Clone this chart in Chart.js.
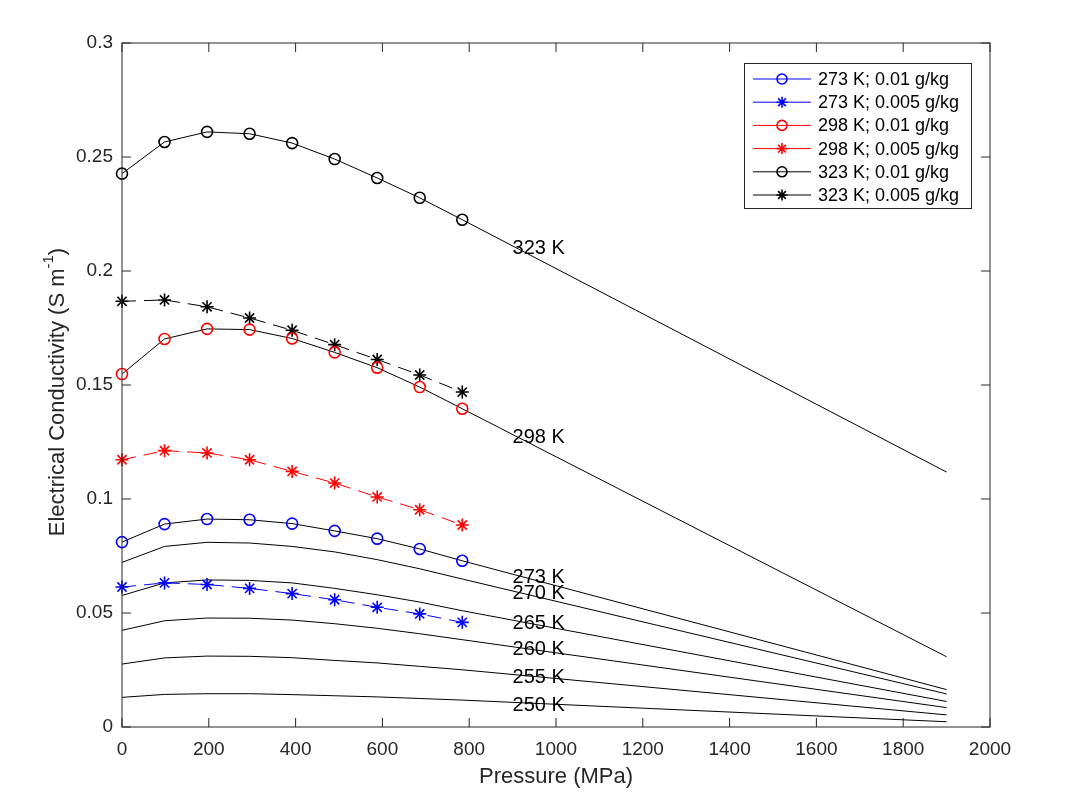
<!DOCTYPE html>
<html>
<head>
<meta charset="utf-8">
<title>Electrical conductivity vs pressure</title>
<script src="https://cdn.jsdelivr.net/npm/chart.js@4.4.1/dist/chart.umd.min.js"></script>
<style>
    html, body { margin: 0; padding: 0; background: #fff; }
</style>
</head>
<body>
<canvas id="chart" width="1074" height="810"></canvas>
<script>
// Measured pressures (MPa) and the pressures the model curves are drawn at
const pressure = [0, 98, 196, 294, 392, 490, 588, 686, 784];
const modelPressure = [0, 98, 196, 294, 392, 490, 588, 686, 784, 1900];

// Measured conductivity (S/m)
const sigma273_01 = [0.0811, 0.0890, 0.0912, 0.0909, 0.0892, 0.0860, 0.0826, 0.0781, 0.0729];
const sigma273_005 = [0.0614, 0.0632, 0.0625, 0.0608, 0.0585, 0.0558, 0.0525, 0.0496, 0.0459];
const sigma298_01 = [0.1548, 0.1702, 0.1746, 0.1743, 0.1704, 0.1643, 0.1576, 0.1491, 0.1396];
const sigma298_005 = [0.1172, 0.1212, 0.1202, 0.1172, 0.1121, 0.1070, 0.1009, 0.0953, 0.0886];
const sigma323_01 = [0.2427, 0.2566, 0.2610, 0.2602, 0.2561, 0.2491, 0.2408, 0.2321, 0.2225];
const sigma323_005 = [0.1867, 0.1873, 0.1843, 0.1794, 0.1740, 0.1677, 0.1612, 0.1544, 0.1469];

// Model curves (S/m)
const model323 = [0.2427, 0.2566, 0.2610, 0.2602, 0.2561, 0.2491, 0.2408, 0.2321, 0.2225, 0.1118];
const model298 = [0.1548, 0.1702, 0.1746, 0.1743, 0.1704, 0.1643, 0.1576, 0.1491, 0.1396, 0.0308];
const model273 = [0.0811, 0.0890, 0.0912, 0.0909, 0.0892, 0.0860, 0.0826, 0.0781, 0.0729, 0.0164];
const model270 = [0.0722, 0.0792, 0.0810, 0.0807, 0.0792, 0.0768, 0.0734, 0.0694, 0.0649, 0.0145];
const model265 = [0.0577, 0.0632, 0.0645, 0.0643, 0.0632, 0.0608, 0.0580, 0.0548, 0.0510, 0.0112];
const model260 = [0.0424, 0.0466, 0.0478, 0.0477, 0.0469, 0.0453, 0.0433, 0.0409, 0.0383, 0.0085];
const model255 = [0.0276, 0.0303, 0.0311, 0.0310, 0.0304, 0.0292, 0.0281, 0.0266, 0.0251, 0.0053];
const model250 = [0.0130, 0.0143, 0.0146, 0.0146, 0.0142, 0.0137, 0.0132, 0.0125, 0.0118, 0.0023];

const modelCurves = [model323, model298, model273, model270, model265, model260, model255, model250];
const modelLabels = ['323 K', '298 K', '273 K', '270 K', '265 K', '260 K', '255 K', '250 K'];
const labelPressure = 900;

const xTicks = [0, 200, 400, 600, 800, 1000, 1200, 1400, 1600, 1800, 2000];
const yTicks = [0, 0.05, 0.1, 0.15, 0.2, 0.25, 0.3];

const FONT = '"Liberation Sans", Helvetica, Arial, sans-serif';
const AXIS = '#262626';

// experiment series, same order as the legend
const series = [
    { label: '273 K; 0.01 g/kg', data: sigma273_01, color: '#0000ff', marker: 'circle' },
    { label: '273 K; 0.005 g/kg', data: sigma273_005, color: '#0000ff', marker: 'star' },
    { label: '298 K; 0.01 g/kg', data: sigma298_01, color: '#ff0000', marker: 'circle' },
    { label: '298 K; 0.005 g/kg', data: sigma298_005, color: '#ff0000', marker: 'star' },
    { label: '323 K; 0.01 g/kg', data: sigma323_01, color: '#000000', marker: 'circle' },
    { label: '323 K; 0.005 g/kg', data: sigma323_005, color: '#000000', marker: 'star' },
];

function toPoints(xs, ys) {
    return xs.map((x, i) => ({ x: x, y: ys[i] }));
}

// value of a model curve at pressure p (for placing its label)
function curveAt(ys, p) {
    for (let i = 1; i < modelPressure.length; i++) {
        if (p <= modelPressure[i]) {
            const t = (p - modelPressure[i - 1]) / (modelPressure[i] - modelPressure[i - 1]);
            return ys[i - 1] + t * (ys[i] - ys[i - 1]);
        }
    }
    return ys[ys.length - 1];
}

function drawMarker(ctx, style, x, y, r) {
    ctx.beginPath();
    if (style === 'circle') {
        ctx.arc(x, y, r, 0, Math.PI * 2);
    } else {
        for (let k = 0; k < 4; k++) {
            const a = k * Math.PI / 4;
            ctx.moveTo(x - Math.cos(a) * r, y - Math.sin(a) * r);
            ctx.lineTo(x + Math.cos(a) * r, y + Math.sin(a) * r);
        }
    }
    ctx.stroke();
}

const datasets = [];

series.forEach((s) => {
    datasets.push({
        label: s.label,
        data: toPoints(pressure, s.data),
        showLine: s.marker === 'star',
        borderColor: s.color,
        borderWidth: 1,
        borderDash: [14, 8],
        pointStyle: s.marker,
        pointRadius: s.marker === 'circle' ? 5.5 : 6.5,
        pointBorderWidth: 1.6,
        pointBorderColor: s.color,
        pointBackgroundColor: 'rgba(0,0,0,0)',
        fill: false,
        clip: false,
    });
});

modelCurves.forEach((ys, i) => {
    datasets.push({
        label: modelLabels[i],
        data: toPoints(modelPressure, ys),
        borderColor: '#000000',
        borderWidth: 1,
        pointRadius: 0,
        fill: false,
    });
});

// box, inward ticks, curve labels, y title and legend
const decorations = {
    id: 'decorations',
    afterDraw(chart) {
        const { ctx, chartArea: a, scales } = chart;
        const xs = scales.x;
        const ys = scales.y;
        const tick = 9;

        ctx.save();
        ctx.strokeStyle = AXIS;
        ctx.lineWidth = 1;
        ctx.setLineDash([]);
        ctx.strokeRect(a.left, a.top, a.right - a.left, a.bottom - a.top);

        ctx.beginPath();
        xTicks.forEach((v) => {
            const px = xs.getPixelForValue(v);
            ctx.moveTo(px, a.bottom);
            ctx.lineTo(px, a.bottom - tick);
            ctx.moveTo(px, a.top);
            ctx.lineTo(px, a.top + tick);
        });
        yTicks.forEach((v) => {
            const py = ys.getPixelForValue(v);
            ctx.moveTo(a.left, py);
            ctx.lineTo(a.left + tick, py);
            ctx.moveTo(a.right, py);
            ctx.lineTo(a.right - tick, py);
        });
        ctx.stroke();

        // temperature labels on the model curves
        ctx.fillStyle = '#000';
        ctx.font = '20px ' + FONT;
        ctx.textAlign = 'left';
        ctx.textBaseline = 'middle';
        modelCurves.forEach((c, i) => {
            ctx.fillText(modelLabels[i], xs.getPixelForValue(labelPressure),
                ys.getPixelForValue(curveAt(c, labelPressure)) + 3);
        });

        // y axis title with superscript
        const main = 'Electrical Conductivity (S m';
        const sup = '-1';
        const end = ')';
        ctx.save();
        ctx.translate(58, 392);
        ctx.rotate(-Math.PI / 2);
        ctx.fillStyle = AXIS;
        ctx.font = '22px ' + FONT;
        const w1 = ctx.measureText(main).width;
        const w3 = ctx.measureText(end).width;
        ctx.font = '15px ' + FONT;
        const w2 = ctx.measureText(sup).width;
        const x0 = -(w1 + w2 + w3) / 2;
        ctx.font = '22px ' + FONT;
        ctx.fillText(main, x0, 0);
        ctx.font = '15px ' + FONT;
        ctx.fillText(sup, x0 + w1, -9);
        ctx.font = '22px ' + FONT;
        ctx.fillText(end, x0 + w1 + w2, 0);
        ctx.restore();

        // legend
        const box = { left: 744, top: 63, width: 227, height: 145 };
        ctx.fillStyle = '#fff';
        ctx.fillRect(box.left, box.top, box.width, box.height);
        ctx.strokeStyle = AXIS;
        ctx.lineWidth = 1;
        ctx.strokeRect(box.left + 0.5, box.top + 0.5, box.width, box.height);
        ctx.font = '18px ' + FONT;
        ctx.textBaseline = 'middle';
        series.forEach((s, i) => {
            const cy = 79 + i * 23.2;
            ctx.strokeStyle = s.color;
            ctx.lineWidth = 1;
            ctx.beginPath();
            ctx.moveTo(753, cy);
            ctx.lineTo(811, cy);
            ctx.stroke();
            ctx.lineWidth = 1.6;
            drawMarker(ctx, s.marker, 782, cy, s.marker === 'circle' ? 5 : 5.5);
            ctx.fillStyle = '#000';
            ctx.fillText(s.label, 818, cy + 1);
        });
        ctx.restore();
    },
};

new Chart(document.getElementById('chart'), {
    type: 'line',
    data: { datasets: datasets },
    options: {
        responsive: false,
        animation: false,
        devicePixelRatio: 1,
        layout: { padding: { top: 43, right: 84, left: 0, bottom: 0 } },
        plugins: {
            legend: { display: false },
            tooltip: { enabled: false },
        },
        scales: {
            x: {
                type: 'linear',
                min: 0,
                max: 2000,
                afterFit: (s) => { s.height = 83; },
                afterBuildTicks: (s) => { s.ticks = xTicks.map((v) => ({ value: v })); },
                grid: { display: false, drawTicks: false },
                border: { display: false },
                ticks: {
                    color: AXIS,
                    font: { family: FONT, size: 19 },
                    padding: 11,
                    maxRotation: 0,
                    autoSkip: false,
                    callback: (v) => String(v),
                },
                title: {
                    display: true,
                    text: 'Pressure (MPa)',
                    color: AXIS,
                    font: { family: FONT, size: 22 },
                    padding: { top: 0, bottom: 20 },
                },
            },
            y: {
                type: 'linear',
                min: 0,
                max: 0.3,
                afterFit: (s) => { s.width = 122; },
                afterBuildTicks: (s) => { s.ticks = yTicks.map((v) => ({ value: v })); },
                grid: { display: false, drawTicks: false },
                border: { display: false },
                ticks: {
                    color: AXIS,
                    font: { family: FONT, size: 19 },
                    padding: 9,
                    callback: (v) => String(+v.toFixed(3)),
                },
            },
        },
    },
    plugins: [decorations],
});
</script>
</body>
</html>
